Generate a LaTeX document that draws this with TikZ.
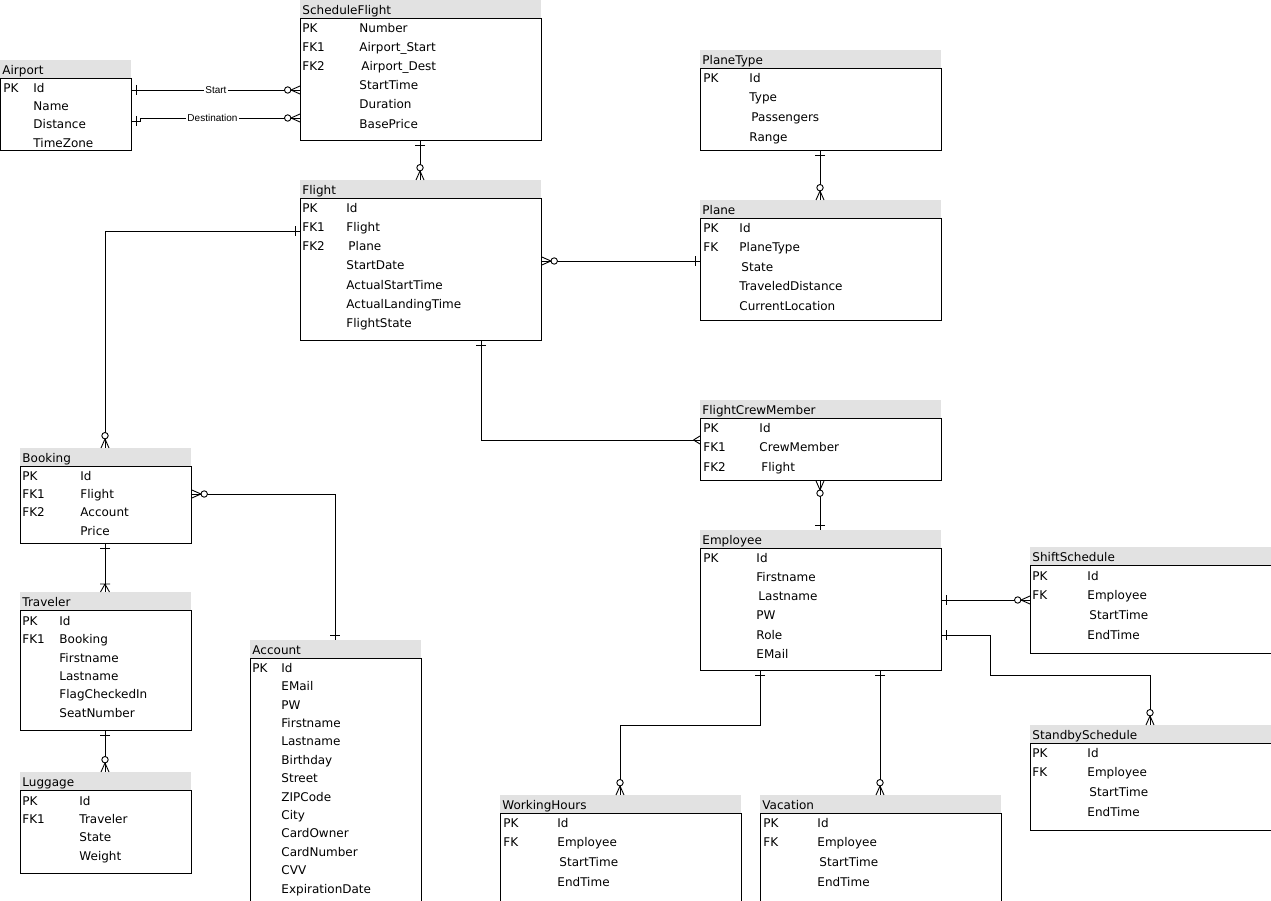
\documentclass[tikz,border=0pt]{standalone}
\usepackage{fontspec}
\setmainfont{DejaVu Sans}
\newfontfamily\lblfont{Liberation Sans}
\usepackage{tikz}
\usetikzlibrary{positioning}

\definecolor{hdrgray}{HTML}{E2E2E2}

\tikzset{
    hdr/.style={fill=hdrgray, inner sep=0, minimum height=18},
    entbody/.style={draw, inner sep=0},
    titletxt/.style={anchor=west, inner sep=0, text height=10, text depth=1.3,
        font=\fontsize{12}{14}\selectfont},
    rowtxt/.style={anchor=base west, inner sep=0, font=\fontsize{12}{14}\selectfont},
    lbl/.style={fill=white, inner sep=1, font=\lblfont\fontsize{10}{12}\selectfont},
    erone/.pic={\draw (4.5,-5) -- (4.5,5);},
    ermany/.pic={\draw (6.5,0) -- (0,-4) (6.5,0) -- (0,4);},
    eronemany/.pic={\draw (8,0) -- (0,-4.5) (8,0) -- (0,4.5) (8,-5) -- (8,5);},
    erzmany/.pic={\draw (9,0) -- (0,-4) (9,0) -- (0,4);
        \draw[fill=white] (12.3,0) circle (3.2);}
}

% name, x, top, width, bottom, title
\newcommand{\entitybox}[6]{
    \node[hdr, minimum width=#4, anchor=north west] (#1) at (#2,#3) {};
    \node[titletxt] (#1-title) at ([xshift=2,yshift=-1]#1.west) {#6};
    \node[entbody, minimum width=#4, minimum height=#5-#3-18, anchor=north west]
        (#1-body) at (#2,#3+18) {};
}
% name, key x, field x, first row y, row step, rows
\newcommand{\entityrows}[6]{
    \foreach \k/\f [count=\i] in {#6} {
        \node[rowtxt] (#1-k\i) at ({#2},{#4+(\i-1)*#5+5.2}) {\k};
        \node[rowtxt] (#1-f\i) at ({#3},{#4+(\i-1)*#5+5.2}) {\f};
    }
}

\begin{document}
\begin{tikzpicture}[x=1pt, y=-1pt, line width=0.9pt]
    \useasboundingbox (0,0) rectangle (1271,901);

    % tables
    \entitybox{airport}{0}{60}{131}{150}{Airport}
    \entityrows{airport}{3}{33}{87}{18.3}{PK/Id, /Name, /Distance, /TimeZone}
    \entitybox{sflight}{300}{0}{241}{140}{ScheduleFlight}
    \entityrows{sflight}{302}{359}{27}{19.2}{PK/Number, FK1/Airport\_Start,
        FK2/\hspace{2pt}Airport\_Dest, /StartTime, /Duration, /BasePrice}
    \entitybox{flight}{300}{180}{241}{340}{Flight}
    \entityrows{flight}{302}{346}{207}{19.2}{PK/Id, FK1/Flight, FK2/\hspace{2pt}Plane,
        /StartDate, /ActualStartTime, /ActualLandingTime, /FlightState}
    \entitybox{planetype}{700}{50}{241}{150}{PlaneType}
    \entityrows{planetype}{703}{749}{77}{19.7}{PK/Id, /Type, /\hspace{2pt}Passengers, /Range}
    \entitybox{plane}{700}{200}{241}{320}{Plane}
    \entityrows{plane}{703}{739}{227}{19.5}{PK/Id, FK/PlaneType, /\hspace{2pt}State,
        /TraveledDistance, /CurrentLocation}
    \entitybox{crew}{700}{400}{241}{480}{FlightCrewMember}
    \entityrows{crew}{703}{759}{427}{19.5}{PK/Id, FK1/CrewMember, FK2/\hspace{2pt}Flight}
    \entitybox{employee}{700}{530}{241}{670}{Employee}
    \entityrows{employee}{703}{756}{557}{19.2}{PK/Id, /Firstname, /\hspace{2pt}Lastname,
        /PW, /Role, /EMail}
    \entitybox{shift}{1030}{547}{241}{653}{ShiftSchedule}
    \entityrows{shift}{1032}{1087}{575}{19.7}{PK/Id, FK/Employee, /\hspace{2pt}StartTime, /EndTime}
    \entitybox{standby}{1030}{725}{241}{830}{StandbySchedule}
    \entityrows{standby}{1032}{1087}{752}{19.7}{PK/Id, FK/Employee, /\hspace{2pt}StartTime, /EndTime}
    \entitybox{workhours}{500}{795}{241}{912}{WorkingHours}
    \entityrows{workhours}{503}{557}{822}{19.7}{PK/Id, FK/Employee, /\hspace{2pt}StartTime, /EndTime}
    \entitybox{vacation}{760}{795}{241}{912}{Vacation}
    \entityrows{vacation}{763}{817}{822}{19.7}{PK/Id, FK/Employee, /\hspace{2pt}StartTime, /EndTime}
    \entitybox{booking}{20}{448}{171}{543}{Booking}
    \entityrows{booking}{22}{80}{475}{18.3}{PK/Id, FK1/Flight, FK2/Account, /Price}
    \entitybox{traveler}{20}{592}{171}{730}{Traveler}
    \entityrows{traveler}{22}{59}{620}{18.4}{PK/Id, FK1/Booking, /Firstname, /Lastname,
        /FlagCheckedIn, /SeatNumber}
    \entitybox{luggage}{20}{772}{171}{873}{Luggage}
    \entityrows{luggage}{22}{79}{800}{18.3}{PK/Id, FK1/Traveler, /State, /Weight}
    \entitybox{account}{250}{640}{171}{912}{Account}
    \entityrows{account}{252}{281}{667}{18.4}{PK/Id, /EMail, /PW, /Firstname, /Lastname,
        /Birthday, /Street, /ZIPCode, /City, /CardOwner, /CardNumber, /CVV, /ExpirationDate}

    % airport -- scheduleflight
    \coordinate (ap-s) at (airport-body.east |- 0,90);
    \coordinate (sf-s) at (sflight-body.west |- 0,90);
    \draw (ap-s) -- node[lbl] (startlbl) {Start} (sf-s);
    \pic at (ap-s) {erone};
    \pic[rotate=180] at (sf-s) {erzmany};
    \coordinate (ap-d) at (airport-body.east |- 0,121);
    \coordinate (sf-d) at (sflight-body.west |- 0,118);
    \draw (ap-d) -- ++(9,0) |- node[lbl, pos=0.725] (destlbl) {Destination} (sf-d);
    \pic at (ap-d) {erone};
    \pic[rotate=180] at (sf-d) {erzmany};

    % scheduleflight -- flight
    \coordinate (sf-f) at (sflight-body.south -| 420,0);
    \coordinate (fl-s) at (flight.north -| 420,0);
    \draw (sf-f) -- (fl-s);
    \pic[rotate=-90] at (sf-f) {erone};
    \pic[rotate=90] at (fl-s) {erzmany};

    % planetype -- plane
    \coordinate (pt-p) at (planetype-body.south -| 820,0);
    \coordinate (pl-t) at (plane.north -| 820,0);
    \draw (pt-p) -- (pl-t);
    \pic[rotate=-90] at (pt-p) {erone};
    \pic[rotate=90] at (pl-t) {erzmany};

    % flight -- plane
    \coordinate (fl-p) at (flight-body.east |- 0,261);
    \coordinate (pl-f) at (plane-body.west |- 0,261);
    \draw (fl-p) -- (pl-f);
    \pic at (fl-p) {erzmany};
    \pic[rotate=180] at (pl-f) {erone};

    % flight -- booking
    \coordinate (fl-b) at (flight-body.west |- 0,231);
    \coordinate (bk-f) at (booking.north -| 105,0);
    \draw (fl-b) -| (bk-f);
    \pic[rotate=180] at (fl-b) {erone};
    \pic[rotate=90] at (bk-f) {erzmany};

    % flight -- crew
    \coordinate (fl-c) at (flight-body.south -| 481,0);
    \coordinate (cr-f) at (crew-body.west |- 0,440);
    \draw (fl-c) |- (cr-f);
    \pic[rotate=-90] at (fl-c) {erone};
    \pic[rotate=180] at (cr-f) {ermany};

    % crew -- employee
    \coordinate (cr-e) at (crew-body.south -| 820,0);
    \coordinate (em-c) at (employee.north -| 820,0);
    \draw (cr-e) -- (em-c);
    \pic[rotate=-90] at (cr-e) {erzmany};
    \pic[rotate=90] at (em-c) {erone};

    % booking -- account
    \coordinate (bk-a) at (booking-body.east |- 0,494);
    \coordinate (ac-b) at (account.north -| 335,0);
    \draw (bk-a) -| (ac-b);
    \pic at (bk-a) {erzmany};
    \pic[rotate=90] at (ac-b) {erone};

    % booking -- traveler -- luggage
    \coordinate (bk-t) at (booking-body.south -| 105,0);
    \coordinate (tr-b) at (traveler.north -| 105,0);
    \draw (bk-t) -- (tr-b);
    \pic[rotate=-90] at (bk-t) {erone};
    \pic[rotate=90] at (tr-b) {eronemany};
    \coordinate (tr-l) at (traveler-body.south -| 105,0);
    \coordinate (lu-t) at (luggage.north -| 105,0);
    \draw (tr-l) -- (lu-t);
    \pic[rotate=-90] at (tr-l) {erone};
    \pic[rotate=90] at (lu-t) {erzmany};

    % employee -- schedules
    \coordinate (em-sh) at (employee-body.east |- 0,600);
    \coordinate (sh-e) at (shift-body.west |- 0,600);
    \draw (em-sh) -- (sh-e);
    \pic at (em-sh) {erone};
    \pic[rotate=180] at (sh-e) {erzmany};
    \coordinate (em-sb) at (employee-body.east |- 0,635);
    \coordinate (sb-e) at (standby.north -| 1150,0);
    \draw (em-sb) -- ++(49,0) -- ++(0,40) -| (sb-e);
    \pic at (em-sb) {erone};
    \pic[rotate=90] at (sb-e) {erzmany};
    \coordinate (em-w) at (employee-body.south -| 760,0);
    \coordinate (wh-e) at (workhours.north -| 620,0);
    \draw (em-w) -- ++(0,55) -| (wh-e);
    \pic[rotate=-90] at (em-w) {erone};
    \pic[rotate=90] at (wh-e) {erzmany};
    \coordinate (em-v) at (employee-body.south -| 880,0);
    \coordinate (va-e) at (vacation.north -| 880,0);
    \draw (em-v) -- (va-e);
    \pic[rotate=-90] at (em-v) {erone};
    \pic[rotate=90] at (va-e) {erzmany};
\end{tikzpicture}
\end{document}
